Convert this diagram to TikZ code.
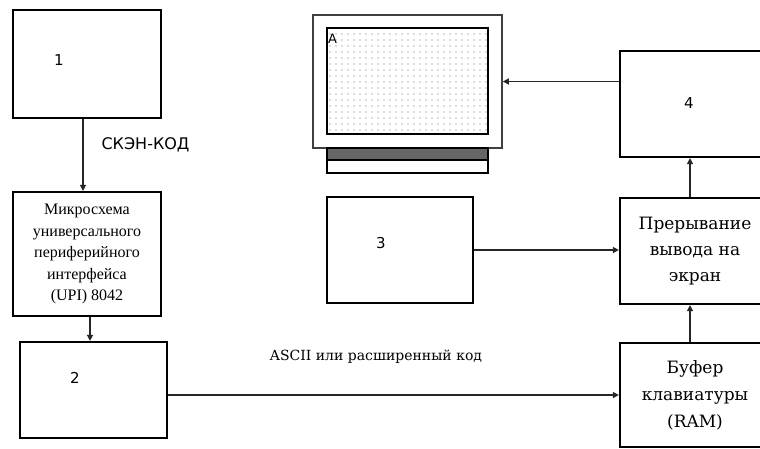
\documentclass[tikz,border=0pt]{standalone}
\usepackage{fontspec}
\setmainfont{Liberation Serif}
\newfontfamily\labfont{DejaVu Sans}
\newfontfamily\boxfont{DejaVu Serif}
\usetikzlibrary{arrows.meta,patterns.meta,positioning}
\tikzstyle{block}=[draw,line width=2.2pt,inner sep=2pt,align=center]
\tikzstyle{link}=[-{Triangle[length=6pt,width=6pt]}, line width=1.4pt, black!85]
\tikzstyle{num}=[font=\labfont\fontsize{15}{15}\selectfont]
\tikzstyle{txt}=[font=\boxfont\fontsize{17}{26}\selectfont]

\begin{document}
\begin{tikzpicture}[x=1pt, y=-1pt]
  \clip (0,0) rectangle (760,448);
  \fill[white] (0,0) rectangle (760,448);

  \node[block, minimum width=148pt, minimum height=124pt,
        font=\fontsize{16}{21.5}\selectfont] (upi) at (87,254)
        {Микросхема\\универсального\\периферийного\\интерфейса\\(UPI) 8042};
  \node[block, minimum width=148pt, minimum height=108pt] (b1) at (87,64) {};
  \node[block, minimum width=147pt, minimum height=96pt] (b2) at (93.5,390) {};
  \node[block, minimum width=146pt, minimum height=106pt] (b3) at (400,250) {};
  \node[block, minimum width=150pt, minimum height=106pt] (b4) at (695,104) {};
  \node[block, minimum width=150pt, minimum height=106pt, txt] (int) at (695,251)
        {Прерывание\\вывода на\\экран};
  \node[block, minimum width=150pt, minimum height=104pt, txt,
        font=\boxfont\fontsize{17}{27}\selectfont] (buf) at (695,395)
        {Буфер\\клавиатуры\\(RAM)};

  % numbers
  \node[num] (n1) at (59,60) {1};
  \node[num] (n2) at (75,378) {2};
  \node[num] (n3) at (381,243) {3};
  \node[num] (n4) at (689,103) {4};

  % monitor
  \node[draw, line width=1.6pt, black!75, minimum width=189pt,
        minimum height=133pt] (mon) at (407.5,81.5) {};
  \draw[line width=1.4pt, pattern={Dots[distance=6pt, radius=0.6pt]},
        pattern color=black!55] (327,28) rectangle (488,134);
  \node[anchor=north west, inner sep=0pt, font=\labfont\fontsize{13}{13}\selectfont]
        (scr) at (328,34) {A};
  \fill[black!60] (327,148) rectangle (488,160);
  \draw[line width=1.2pt] (327,148) rectangle (488,160);
  \draw[line width=1.2pt] (327,160) rectangle (488,173);

  % labels
  \node[font=\labfont\fontsize{16}{16}\selectfont, anchor=west] (scan) at (98,145) {СКЭН-КОД};
  \node[font=\boxfont\fontsize{14}{14}\selectfont] (ascii) at (376,357) {ASCII или расширенный код};

  % connectors
  \draw[link] ([xshift=-4pt]b1.south) -- ([xshift=-4pt]upi.north);
  \draw[link] ([xshift=3pt]upi.south) -- ([xshift=3pt]upi.south |- b2.north);
  \draw[link] (buf.west -| b2.east) -- (buf.west);
  \draw[link] (b3.east) -- (b3.east -| int.west);
  \draw[link] ([xshift=-5pt]buf.north) -- ([xshift=-5pt]int.south);
  \draw[link] ([xshift=-5pt]int.north) -- ([xshift=-5pt]b4.south);
  \draw[link] (mon.east -| b4.west) -- (mon.east);
\end{tikzpicture}
\end{document}
